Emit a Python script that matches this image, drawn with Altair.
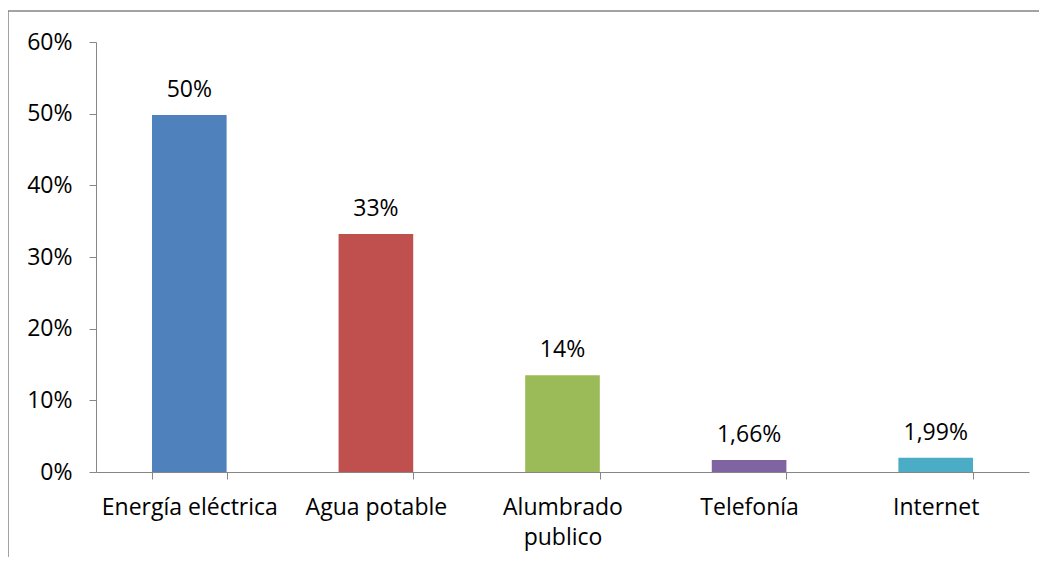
import altair as alt
import pandas as pd

categories = ["Energía eléctrica", "Agua potable", "Alumbrado publico", "Telefonía", "Internet"]
values = [0.498, 0.332, 0.135, 0.0166, 0.0199]
labels = ["50%", "33%", "14%", "1,66%", "1,99%"]
colors = ["#4F81BD", "#C0504D", "#9BBB59", "#8064A2", "#4BACC6"]

df = pd.DataFrame({"cat": categories, "val": values, "lab": labels})

FONT = "Open Sans"
FS = 23

x = alt.X("cat:N", sort=categories, title=None,
          scale=alt.Scale(paddingInner=0.6, paddingOuter=0.3),
          axis=alt.Axis(labelAngle=0, tickBand="extent", labelFont=FONT, labelFontSize=FS,
                        labelColor="#000000", domainColor="#868686", tickColor="#868686",
                        tickSize=7, labelPadding=17, labelLineHeight=30,
                        labelExpr="datum.label == 'Alumbrado publico' ? ['Alumbrado', 'publico'] : datum.label"))
y = alt.Y("val:Q", title=None,
          scale=alt.Scale(domain=[0, 0.6], nice=False),
          axis=alt.Axis(format=".0%", values=[0, 0.1, 0.2, 0.3, 0.4, 0.5, 0.6], grid=False,
                        labelFont=FONT, labelFontSize=FS, labelColor="#000000",
                        domainColor="#868686", tickColor="#868686", tickSize=7, labelPadding=17))

bars = alt.Chart(df).mark_bar().encode(
    x=x, y=y,
    color=alt.Color("cat:N", sort=categories, scale=alt.Scale(domain=categories, range=colors), legend=None),
)
text = alt.Chart(df).mark_text(font=FONT, fontSize=FS, baseline="alphabetic", dy=-18, color="#000000").encode(
    x=alt.X("cat:N", sort=categories), y="val:Q", text="lab:N"
)

frame_df = pd.DataFrame({"k": [0]})
frame_top = alt.Chart(frame_df).mark_rule(color="#858585", strokeWidth=1.5).encode(
    x=alt.value(-88), x2=alt.value(945), y=alt.value(-31))
frame_left = alt.Chart(frame_df).mark_rule(color="#858585", strokeWidth=1.5).encode(
    x=alt.value(-88), y=alt.value(-31), y2=alt.value(525))

chart = alt.layer(frame_top, frame_left, bars, text).properties(
    width=933, height=430,
    autosize=alt.AutoSizeParams(type="none"),
    padding={"left": 88, "top": 34, "right": 10, "bottom": 85},
).configure(background="white").configure_view(stroke="transparent", strokeWidth=0)

chart.save("out.html", embed_options={"renderer": "svg", "actions": False})
